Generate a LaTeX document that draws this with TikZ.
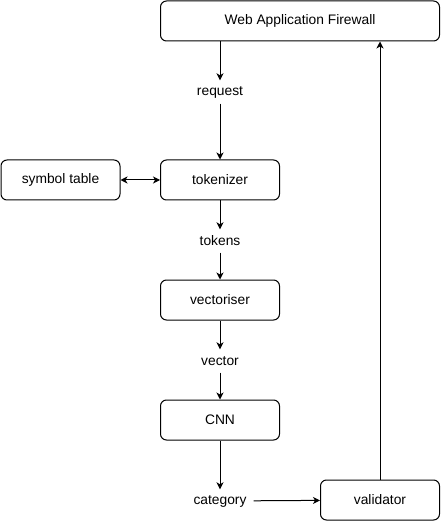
\documentclass[tikz,border=0pt]{standalone}
\usepackage{fontspec}
\setmainfont{Liberation Sans}
\usetikzlibrary{arrows.meta}
\begin{document}
\begin{tikzpicture}[x=1pt,y=-1pt,
  box/.style={draw,line width=1pt,rounded corners=6pt,inner sep=0pt,font=\fontsize{13.8}{16}\selectfont},
  lbl/.style={inner xsep=7pt,inner ysep=0pt,minimum height=23pt,font=\fontsize{13.8}{16}\selectfont},
  conn/.style={line width=1pt,-{Stealth[length=7pt,width=7pt,inset=2pt]}},
  dconn/.style={line width=1pt,{Stealth[length=7pt,width=7pt,inset=2pt]}-{Stealth[length=7pt,width=7pt,inset=2pt]}}]
\useasboundingbox (0,0) rectangle (441,521);
\node[box,minimum width=279pt,minimum height=40pt] (waf) at (300,21) {Web Application Firewall};
\node[box,minimum width=119pt,minimum height=40pt] (sym) at (60.5,180) {symbol table};
\node[box,minimum width=119pt,minimum height=40pt] (tok) at (220,180) {tokenizer};
\node[box,minimum width=119pt,minimum height=40pt] (vec) at (220,300) {vectoriser};
\node[box,minimum width=119pt,minimum height=40pt] (cnn) at (220,420) {CNN};
\node[box,minimum width=119pt,minimum height=40pt] (val) at (380,500) {validator};
\node[lbl] (req) at (220,92) {request};
\node[lbl] (toks) at (220,241) {tokens};
\node[lbl] (vect) at (220,361) {vector};
\node[lbl] (cat) at (220,501) {category};
\draw[conn] (waf.south -| req) -- (req);
\draw[conn] (req) -- (tok);
\draw[dconn] (sym) -- (tok);
\draw[conn] (tok) -- (toks);
\draw[conn] (toks) -- (vec);
\draw[conn] (vec) -- (vect);
\draw[conn] (vect) -- (cnn);
\draw[conn] (cnn) -- (cat);
\draw[conn] (cat) -- (val);
\draw[conn] (val) -- (val |- waf.south);
\end{tikzpicture}
\end{document}
